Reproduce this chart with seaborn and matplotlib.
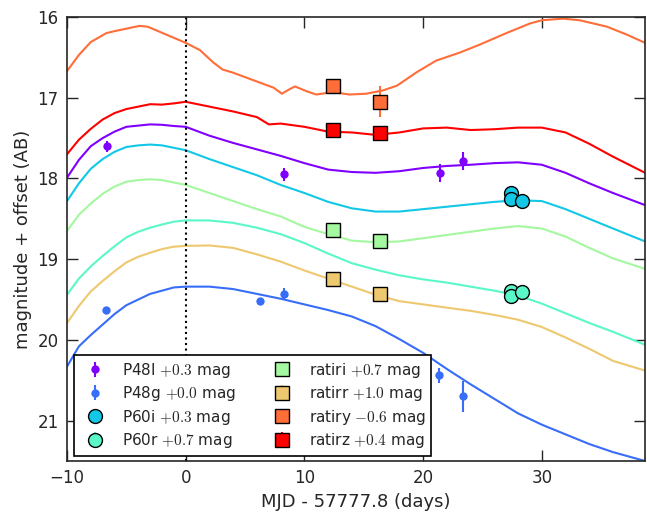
import numpy as np
import pandas as pd
import matplotlib
matplotlib.use("Agg")
import matplotlib.pyplot as plt
import seaborn as sns

# bands in legend order, offsets and colours (rainbow map, 8 steps)
bands = ["P48I", "P48g", "P60i", "P60r", "ratiri", "ratirr", "ratiry", "ratirz"]
offset_labels = ["+0.3", "+0.0", "+0.3", "+0.7", "+0.7", "+1.0", "-0.6", "+0.4"]

# model curves (days since peak, magnitude + offset)
model_days = [-10, -9, -8, -7, -6, -5, -4, -3, -2, -1, 0, 2, 4, 6, 8, 10, 12, 14,
              16, 18, 20, 22, 24, 26, 28, 30, 32, 34, 36, 38.7]
curve_P48I = [17.99, 17.77, 17.60, 17.50, 17.42, 17.36, 17.345, 17.33, 17.335, 17.35,
              17.36, 17.47, 17.56, 17.64, 17.72, 17.81, 17.89, 17.92, 17.93, 17.91,
              17.87, 17.845, 17.83, 17.81, 17.80, 17.83, 17.93, 18.06, 18.18, 18.33]
curve_P48g = [20.33, 20.08, 19.94, 19.81, 19.68, 19.57, 19.50, 19.43, 19.39, 19.35,
              19.34, 19.34, 19.37, 19.43, 19.49, 19.56, 19.63, 19.71, 19.83, 19.99,
              20.16, 20.36, 20.55, 20.73, 20.91, 21.05, 21.17, 21.29, 21.39, 21.50]
curve_P60i = [18.28, 18.06, 17.88, 17.76, 17.67, 17.61, 17.59, 17.58, 17.59, 17.62,
              17.65, 17.76, 17.86, 17.96, 18.08, 18.18, 18.29, 18.37, 18.41, 18.41,
              18.38, 18.35, 18.32, 18.29, 18.27, 18.28, 18.38, 18.50, 18.62, 18.78]
curve_P60r = [19.44, 19.24, 19.09, 18.96, 18.84, 18.73, 18.66, 18.61, 18.57, 18.535,
              18.52, 18.52, 18.55, 18.61, 18.69, 18.80, 18.93, 19.05, 19.13, 19.20,
              19.25, 19.29, 19.34, 19.39, 19.45, 19.55, 19.67, 19.79, 19.90, 20.06]
curve_ratiri = [18.65, 18.45, 18.31, 18.19, 18.10, 18.04, 18.02, 18.01, 18.02, 18.05,
                18.08, 18.18, 18.28, 18.38, 18.47, 18.60, 18.69, 18.77, 18.79, 18.78,
                18.74, 18.70, 18.66, 18.62, 18.59, 18.62, 18.72, 18.86, 18.99, 19.12]
curve_ratirr = [19.79, 19.58, 19.40, 19.27, 19.15, 19.04, 18.97, 18.92, 18.875, 18.845,
                18.835, 18.83, 18.86, 18.94, 19.03, 19.14, 19.24, 19.34, 19.44, 19.52,
                19.56, 19.60, 19.64, 19.69, 19.75, 19.84, 19.97, 20.11, 20.26, 20.38]

ratirz_days = [-10, -9, -8, -7, -6, -5, -4, -3, -2, -1, 0, 2, 4, 6, 7, 8, 10, 12,
               14, 16, 18, 20, 22, 24, 26, 28, 30, 32, 34, 36, 38.7]
curve_ratirz = [17.70, 17.52, 17.385, 17.27, 17.19, 17.14, 17.11, 17.08, 17.085, 17.07,
                17.05, 17.11, 17.17, 17.24, 17.33, 17.32, 17.36, 17.42, 17.43, 17.46,
                17.43, 17.38, 17.37, 17.40, 17.39, 17.37, 17.37, 17.43, 17.57, 17.73,
                17.93]

ratiry_days = [-10, -9, -8, -6.7, -6, -3.9, -3.2, -1.6, 0, 1.2, 2.3, 3.1, 4, 5.1,
               6.2, 7.4, 8.1, 8.8, 9.2, 10.2, 11.0, 12.4, 13.8, 15.2, 16.6, 17.8,
               19.5, 21.1, 23.1, 24.8, 27.0, 29.0, 30.0, 31.8, 33.2, 35.5, 37.2, 38.7]
curve_ratiry = [16.67, 16.47, 16.31, 16.20, 16.175, 16.11, 16.12, 16.22, 16.32, 16.41,
                16.56, 16.65, 16.69, 16.75, 16.81, 16.875, 16.95, 16.89, 16.86, 16.92,
                16.96, 16.93, 16.96, 16.95, 16.91, 16.85, 16.68, 16.54, 16.44, 16.34,
                16.20, 16.08, 16.04, 16.02, 16.04, 16.12, 16.22, 16.32]

# photometry (days, magnitude + offset, error)
p48i_t = [-6.66, 8.32, 21.39, 23.36]
p48i_m = [17.60, 17.95, 17.93, 17.78]
p48i_e = [0.07, 0.08, 0.11, 0.11]
p48g_t = [-6.69, 6.30, 8.29, 21.36, 23.33]
p48g_m = [19.63, 19.52, 19.43, 20.44, 20.70]
p48g_e = [0.03, 0.03, 0.07, 0.09, 0.19]
p60i_t = [27.43, 27.43, 28.33]
p60i_m = [18.18, 18.25, 18.28]
p60i_e = [0.03, 0.03, 0.03]
p60r_t = [27.40, 27.40, 28.30]
p60r_m = [19.39, 19.46, 19.41]
p60r_e = [0.03, 0.03, 0.03]
ratiri_t = [12.42, 16.36]
ratiri_m = [18.64, 18.78]
ratiri_e = [0.05, 0.05]
ratirr_t = [12.42, 16.36]
ratirr_m = [19.24, 19.43]
ratirr_e = [0.05, 0.05]
ratiry_t = [12.42, 16.36]
ratiry_m = [16.86, 17.05]
ratiry_e = [0.09, 0.19]
ratirz_t = [12.42, 16.36]
ratirz_m = [17.40, 17.44]
ratirz_e = [0.07, 0.06]

sns.set_style("ticks")
plt.rcParams["font.family"] = ["DejaVu Sans"]
plt.rcParams["mathtext.fontset"] = "cm"

colors = dict(zip(bands, plt.cm.rainbow(np.linspace(0, 1, len(bands)))))

curves = {
    "P48I": (model_days, curve_P48I), "P48g": (model_days, curve_P48g),
    "P60i": (model_days, curve_P60i), "P60r": (model_days, curve_P60r),
    "ratiri": (model_days, curve_ratiri), "ratirr": (model_days, curve_ratirr),
    "ratiry": (ratiry_days, curve_ratiry), "ratirz": (ratirz_days, curve_ratirz),
}
rows = []
for b, (t, m) in curves.items():
    for ti, mi in zip(t, m):
        rows.append({"day": ti, "mag": mi, "band": b})
model = pd.DataFrame(rows)

phot = {
    "P48I": (p48i_t, p48i_m, p48i_e), "P48g": (p48g_t, p48g_m, p48g_e),
    "P60i": (p60i_t, p60i_m, p60i_e), "P60r": (p60r_t, p60r_m, p60r_e),
    "ratiri": (ratiri_t, ratiri_m, ratiri_e), "ratirr": (ratirr_t, ratirr_m, ratirr_e),
    "ratiry": (ratiry_t, ratiry_m, ratiry_e), "ratirz": (ratirz_t, ratirz_m, ratirz_e),
}

fig = plt.figure(figsize=(6.47, 5.16), dpi=100)
ax = fig.add_axes([0.1036, 0.1066, 0.8934, 0.8604])

sns.lineplot(data=model, x="day", y="mag", hue="band", palette=colors,
             sort=False, estimator=None, legend=False, linewidth=1.5, ax=ax)

for b, lab in zip(bands, offset_labels):
    t, m, e = phot[b]
    label = b + r" $" + lab + r"$ mag"
    if b.startswith("P48"):
        ax.errorbar(t, m, yerr=e, fmt="o", color=colors[b], ms=6, mew=0,
                    elinewidth=1.5, label=label, zorder=5)
    elif b.startswith("P60"):
        ax.errorbar(t, m, yerr=e, fmt="o", color=colors[b], mfc=colors[b], mec="black",
                    ms=10, mew=1, elinewidth=1.5, label=label, zorder=5)
    else:
        ax.errorbar(t, m, yerr=e, fmt="s", color=colors[b], mfc=colors[b], mec="black",
                    ms=10, mew=1, elinewidth=1.5, label=label, zorder=5)

ax.axvline(0, color="black", linestyle=":", linewidth=1.5)

ax.set_xlim(-10, 38.7)
ax.set_ylim(21.5, 16)
ax.set_xticks([-10, 0, 10, 20, 30])
ax.set_yticks([16, 17, 18, 19, 20, 21])
ax.tick_params(direction="in", top=True, right=True, length=8, width=1,
               labelsize=12, pad=6)
for s in ax.spines.values():
    s.set_linewidth(1.2)
ax.set_xlabel("MJD - 57777.8 (days)", fontsize=13)
ax.set_ylabel("magnitude + offset (AB)", fontsize=13)

leg = ax.legend(loc="lower left", bbox_to_anchor=(0.012, 0.012), borderaxespad=0,
                ncol=2, numpoints=1, fontsize=11, fancybox=False, framealpha=1,
                edgecolor="black", handletextpad=0.8, labelspacing=0.3,
                borderpad=0.35)
leg.get_frame().set_linewidth(1.2)

fig.savefig("out.png", dpi=100)
